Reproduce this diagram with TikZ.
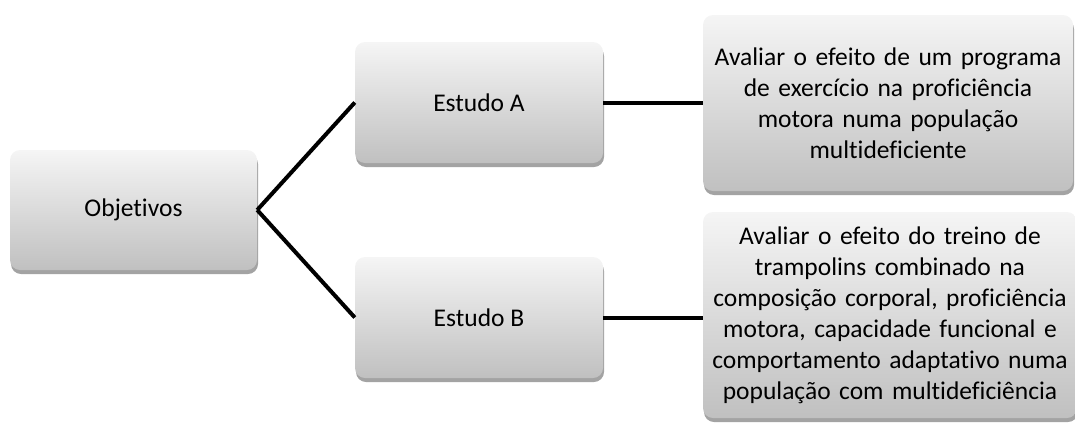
\documentclass[tikz,border=0pt]{standalone}
\usepackage{fontspec}
\setmainfont{Carlito}[Ligatures={NoCommon}]
\usetikzlibrary{shadows}

\definecolor{caixatopo}{HTML}{F5F5F5}
\definecolor{caixabase}{HTML}{C0C0C0}
\definecolor{sombra}{HTML}{A3A3A3}

\newcommand{\linhalarga}[1]{\makebox[\linewidth]{#1}}

\tikzset{
	caixa/.style={rounded corners=10pt, top color=caixatopo, bottom color=caixabase,
		drop shadow={shadow xshift=1pt, shadow yshift=-4pt, fill=sombra, opacity=1},
		inner sep=0pt, align=center, font=\fontsize{25.5}{31}\selectfont},
	ligacao/.style={line width=4pt}
}

\begin{document}
\begin{tikzpicture}[x=1pt, y=-1pt]
	\useasboundingbox (0,0) rectangle (1075,426);

	% Caixas
	\node [caixa, minimum width=247pt, minimum height=120pt] (obj) at (133.5,210) {Objetivos};
	\node [caixa, minimum width=248pt, minimum height=121pt] (estA) at (479,102.5) {Estudo A};
	\node [caixa, minimum width=248pt, minimum height=121pt] (estB) at (479,317.5) {Estudo B};

	\node [caixa, text width=370pt, minimum height=176pt] (objA) at (888,103)
		{Avaliar o efeito de um programa\\ de exercício na proficiência\\ motora numa população\\ multideficiente};
	\node [caixa, text width=374pt, minimum height=206pt] (objB) at (890,315)
		{Avaliar o efeito do treino de\\ trampolins combinado na\\ \linhalarga{composição corporal, proficiência}\\ motora, capacidade funcional e\\ \linhalarga{comportamento adaptativo numa}\\ população com multideficiência};

	% Ligações
	\draw [ligacao] (obj.east) -- (estA.west);
	\draw [ligacao] (obj.east) -- (estB.west);
	\draw [ligacao] (estA.east) -- (estA.east -| objA.west);
	\draw [ligacao] (estB.east) -- (estB.east -| objB.west);
\end{tikzpicture}
\end{document}
